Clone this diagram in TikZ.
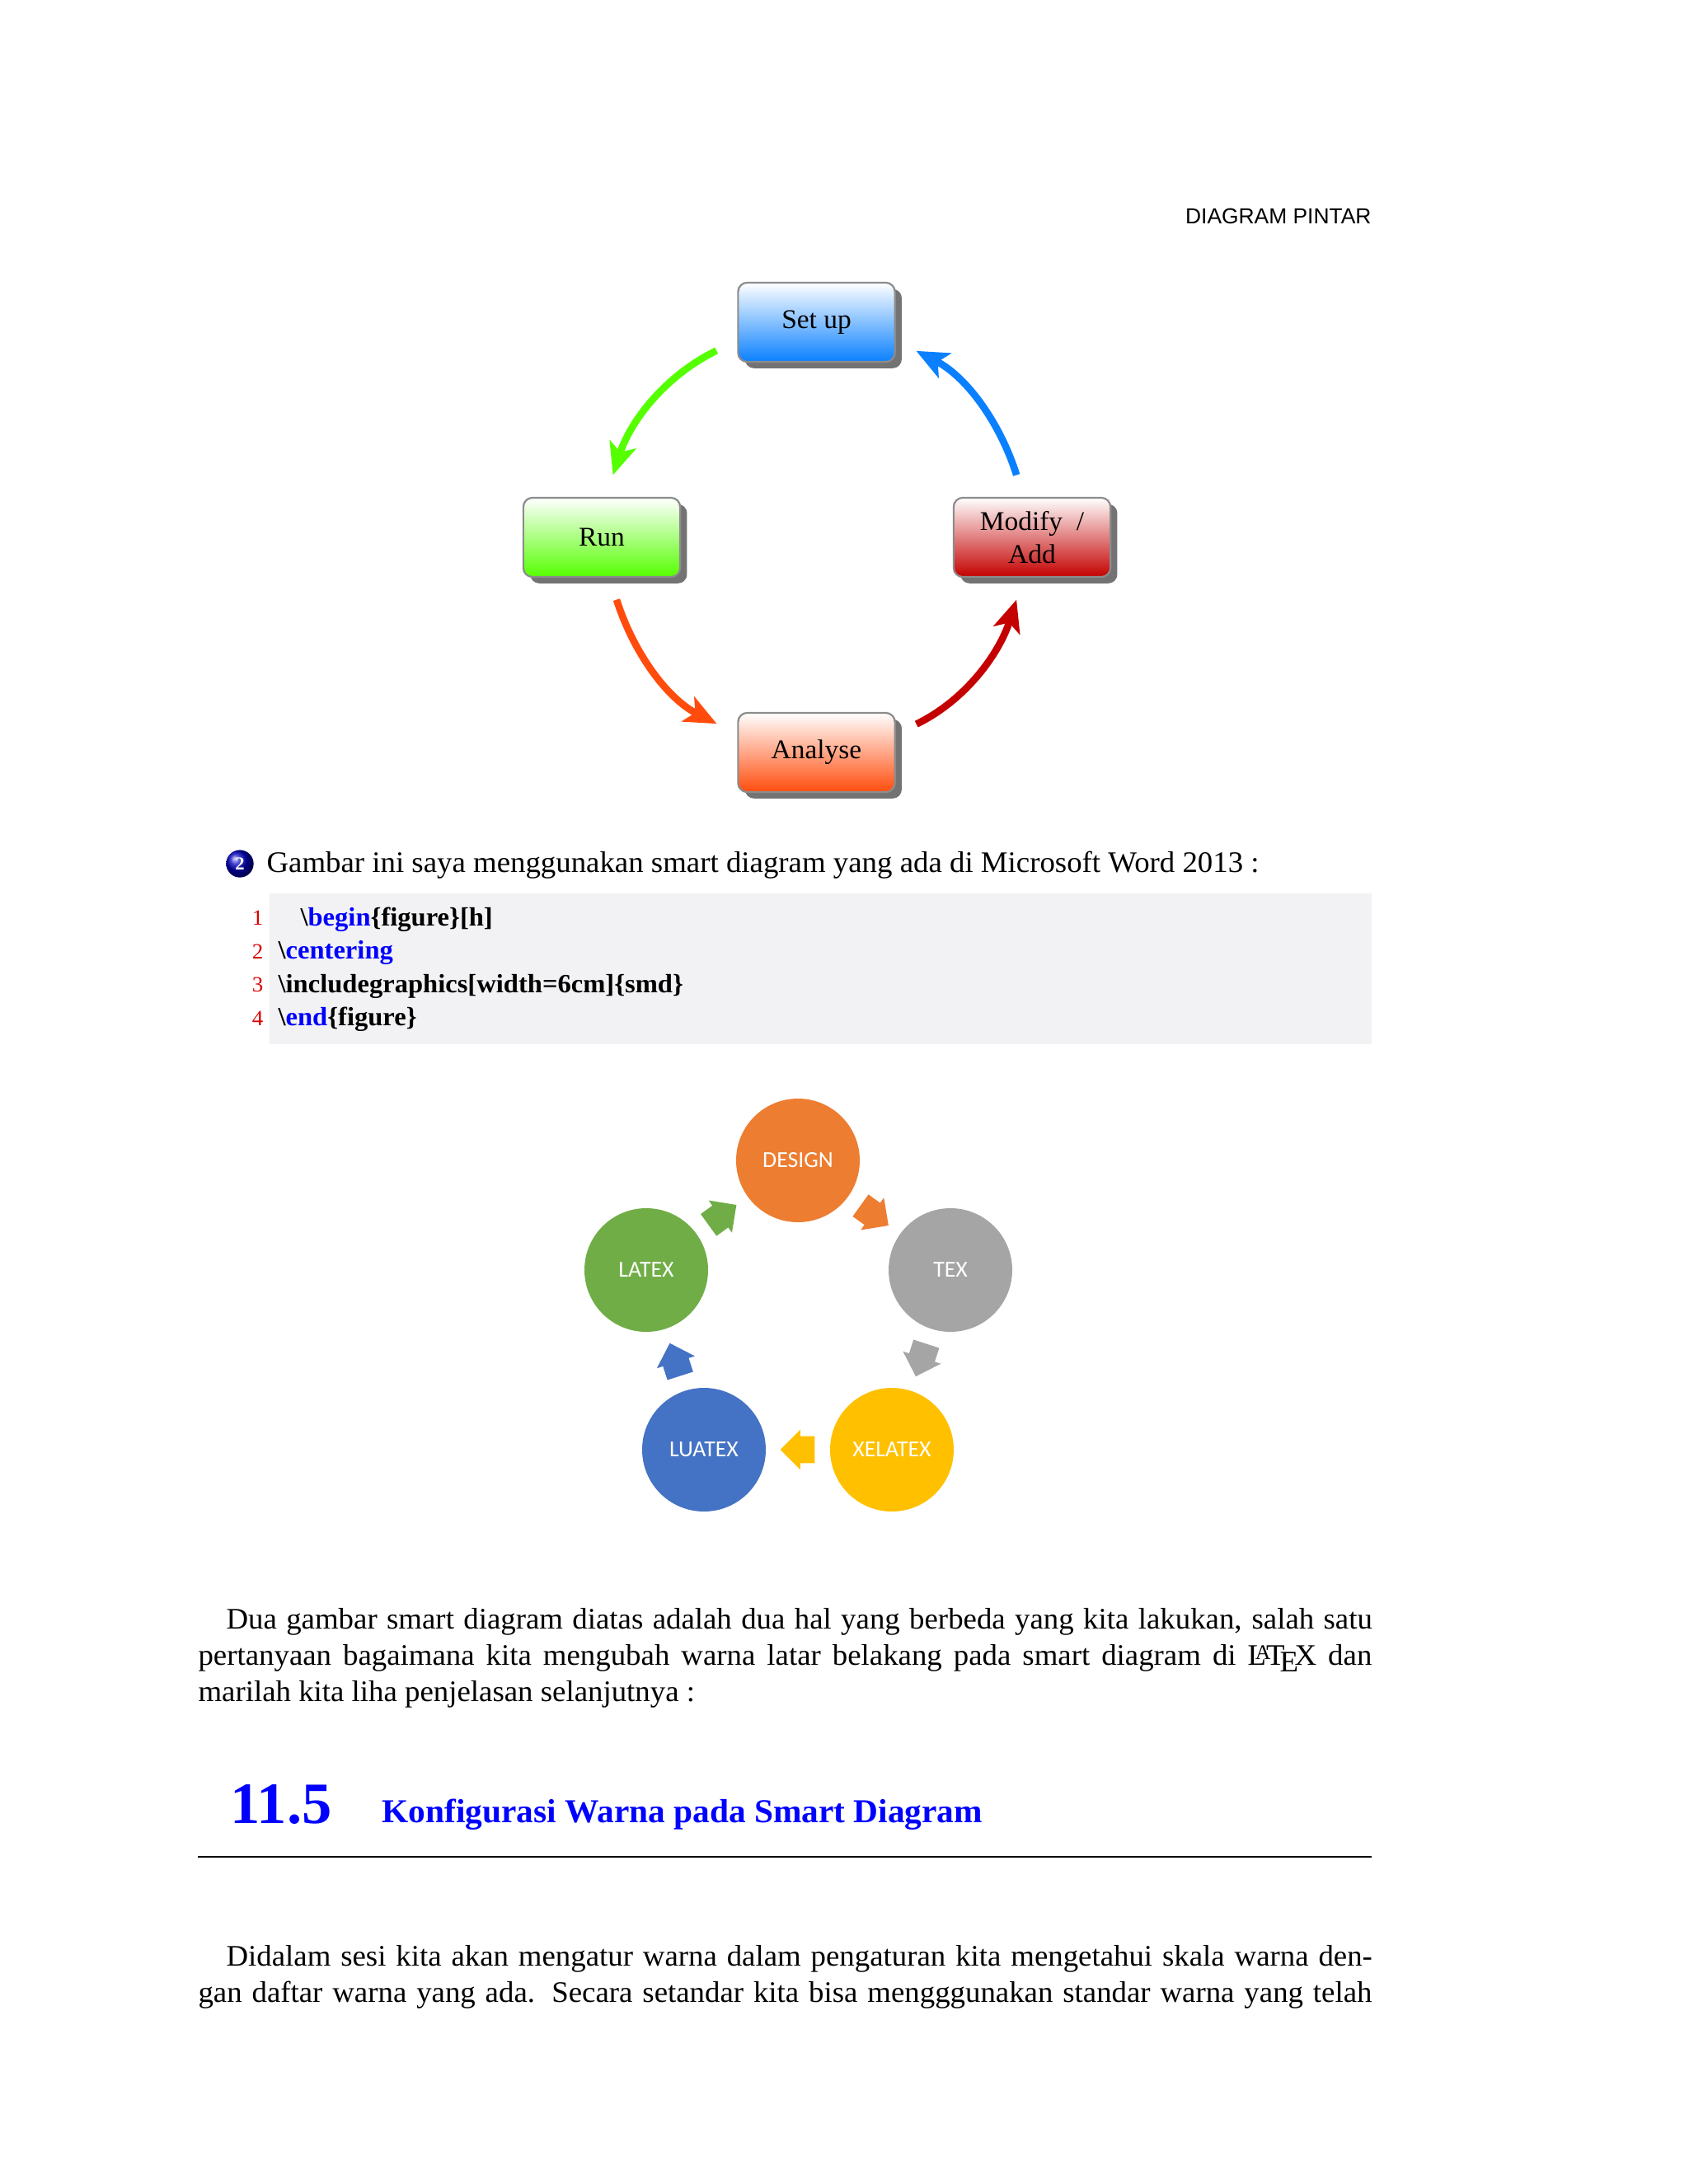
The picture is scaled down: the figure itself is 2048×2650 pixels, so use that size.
\documentclass[tikz,border=0pt]{standalone}
\usepackage{fontspec}
\usepackage{xcolor}
\setmainfont[FakeStretch=1.02]{Liberation Serif}
\newfontfamily\headfont{Liberation Sans}
\newfontfamily\circlefont{Carlito}
\usetikzlibrary{arrows.meta,shadows,shapes.arrows}
\definecolor{setup-blue}{HTML}{0A80FF}
\definecolor{run-green}{HTML}{55FF00}
\definecolor{modify-red}{HTML}{C40000}
\definecolor{analyse-orange}{HTML}{FF4C0D}
\definecolor{code-gray}{HTML}{F2F2F4}
\definecolor{design-orange}{HTML}{ED7D31}
\definecolor{tex-gray}{HTML}{A5A5A5}
\definecolor{xelatex-yellow}{HTML}{FFC000}
\definecolor{luatex-blue}{HTML}{4472C4}
\definecolor{latex-green}{HTML}{70AD47}
\tikzset{
    body-line/.style = {anchor=base west, inner sep=0pt, font=\fontsize{13}{16}\selectfont},
    code-line/.style = {anchor=base west, inner sep=0pt, font=\fontsize{11.5}{16}\selectfont\bfseries},
    code-number/.style = {anchor=base east, inner sep=0pt, text=red!85!black, font=\fontsize{9.5}{12}\selectfont},
    cycle-box/.style = {draw=gray!90, line width=0.8pt, rectangle, rounded corners=4pt, minimum width=68.5pt, minimum height=34.6pt, inner sep=0pt, align=center, font=\fontsize{11.8}{14.4}\selectfont, top color=white, drop shadow={shadow xshift=3pt, shadow yshift=-2.8pt, fill=gray!90!black, opacity=1}},
    cycle-arrow/.style = {line width=3.1pt, -{Stealth[length=14pt, width=12pt, inset=3.5pt]}, shorten <=10pt, shorten >=10pt},
    cycle-circle/.style = {circle, minimum size=54pt, inner sep=0pt, text=white, font=\circlefont\fontsize{10}{12}\selectfont},
    block-arrow/.style = {single arrow, sloped, allow upside down, pos=0.4, inner sep=0pt, inner ysep=5.7pt, minimum height=15pt, single arrow head extend=2.8pt},
}
\begin{document}
\begin{tikzpicture}[x=0.36pt, y=-0.36pt]
\useasboundingbox (0,0) rectangle (2048,2650);
\node [anchor=base east, inner sep=0pt, font=\headfont\fontsize{9.5}{12}\selectfont] (header) at (1664,271) {DIAGRAM PINTAR};

\node [cycle-box, bottom color=setup-blue] (setup) at (990.5,391) {Set up};
\node [cycle-box, bottom color=run-green] (run) at (730,652) {Run};
\node [cycle-box, bottom color=modify-red] (modify) at (1252,652) {Modify~~/\\Add};
\node [cycle-box, bottom color=analyse-orange] (analyse) at (990.5,913) {Analyse};
\draw [cycle-arrow, setup-blue] (modify.102.5) to[out=107.5, in=-27] (setup.347);
\draw [cycle-arrow, run-green] (setup.193) to[out=206, in=72.2] (run.84);
\draw [cycle-arrow, analyse-orange] (run.281.5) to[out=287.7, in=153] (analyse.167);
\draw [cycle-arrow, modify-red] (analyse.13) to[out=26, in=252.3] (modify.258.5);

\node [circle, ball color=blue!75!black, minimum size=12pt, inner sep=0pt, text=white, font=\fontsize{8}{9}\selectfont\bfseries] (bullet) at (291,1048) {2};
\node [body-line] (intro) at (323,1058.5) {Gambar ini saya menggunakan smart diagram yang ada di Microsoft Word 2013 :};

\node [fill=code-gray, anchor=north west, inner sep=0pt, minimum width=481.3pt, minimum height=65.9pt] (codebox) at (326,1083) {};
\node [code-number] (num1) at (320,1122) {1};
\node [code-number] (num2) at (320,1163) {2};
\node [code-number] (num3) at (320,1203) {3};
\node [code-number] (num4) at (320,1244) {4};
\node [code-line] (code1) at (364,1123) {\textbackslash\textcolor{blue}{begin}\{figure\}[h]};
\node [code-line] (code2) at (337,1163.5) {\textbackslash\textcolor{blue}{centering}};
\node [code-line] (code3) at (337,1204) {\textbackslash includegraphics[width=6cm]\{smd\}};
\node [code-line] (code4) at (337,1244.5) {\textbackslash\textcolor{blue}{end}\{figure\}};

\node [cycle-circle, fill=design-orange] (design) at (968,1408) {DESIGN};
\node [cycle-circle, fill=tex-gray] (tex) at (1153,1541) {TEX};
\node [cycle-circle, fill=xelatex-yellow] (xelatex) at (1082,1759) {XELATEX};
\node [cycle-circle, fill=luatex-blue] (luatex) at (854,1759) {LUATEX};
\node [cycle-circle, fill=latex-green] (latex) at (784,1541) {LATEX};
\path (design) -- node [block-arrow, fill=design-orange] (arrow1) {} (tex);
\path (tex) -- node [block-arrow, fill=tex-gray] (arrow2) {} (xelatex);
\path (xelatex) -- node [block-arrow, fill=xelatex-yellow] (arrow3) {} (luatex);
\path (luatex) -- node [block-arrow, fill=luatex-blue] (arrow4) {} (latex);
\path (latex) -- node [block-arrow, fill=latex-green] (arrow5) {} (design);

\node [body-line] (para1a) at (274,1976.5) {\makebox[500.5pt][s]{Dua gambar smart diagram diatas adalah dua hal yang berbeda yang kita lakukan, salah satu}};
\node [body-line] (para1b) at (240,2020.5) {\makebox[512.6pt][s]{pertanyaan bagaimana kita mengubah warna latar belakang pada smart diagram di \LaTeX{} dan}};
\node [body-line] (para1c) at (240,2064.5) {marilah kita liha penjelasan selanjutnya :};

\node [body-line, text=blue, font=\fontsize{25.6}{28}\selectfont\bfseries] (secnum) at (279,2212) {11.5};
\node [body-line, text=blue, font=\fontsize{14.6}{18}\selectfont\bfseries] (sectitle) at (463,2211) {Konfigurasi Warna pada Smart Diagram};
\coordinate (ruleleft) at (240,2253);
\coordinate (ruleright) at (1664,2253);
\draw [line width=0.7pt] (ruleleft) -- (ruleright);

\node [body-line] (para2a) at (274,2385.5) {\makebox[500.5pt][s]{Didalam sesi kita akan mengatur warna dalam pengaturan kita mengetahui skala warna den-}};
\node [body-line] (para2b) at (240,2429.5) {\makebox[512.6pt][s]{gan daftar warna yang ada. Secara setandar kita bisa mengggunakan standar warna yang telah}};
\end{tikzpicture}
\end{document}
